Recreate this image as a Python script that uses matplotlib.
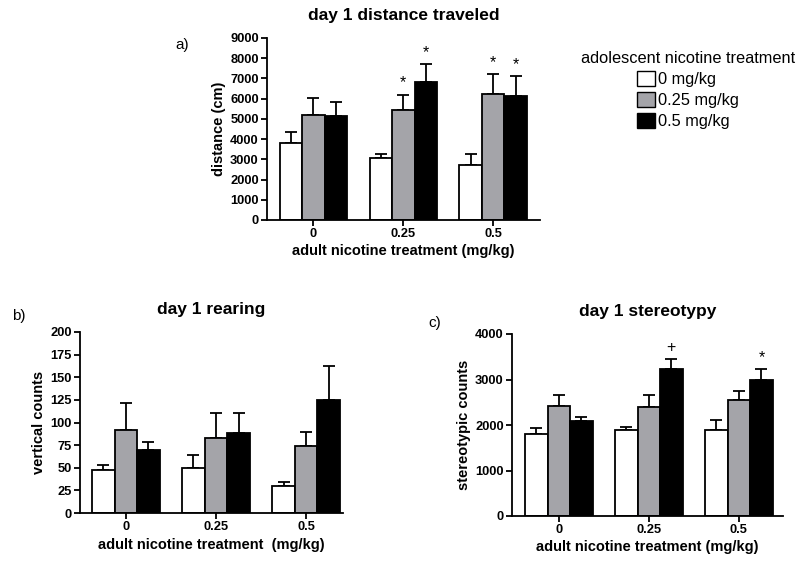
import matplotlib
matplotlib.use("Agg")
import matplotlib.pyplot as plt
from matplotlib.patches import Patch
import numpy as np

plt.rcParams['font.family'] = ['Liberation Sans', 'DejaVu Sans']

groups = ["0", "0.25", "0.5"]
series = ["0 mg/kg", "0.25 mg/kg", "0.5 mg/kg"]
colors = ["#ffffff", "#a4a4a9", "#000000"]

# panel a: distance traveled
dist_mean = [[3800, 3050, 2700], [5200, 5420, 6250], [5150, 6830, 6120]]
dist_err = [[550, 230, 550], [820, 780, 970], [680, 890, 980]]
dist_marks = [(1, 1, "*"), (1, 2, "*"), (2, 1, "*"), (2, 2, "*")]

# panel b: rearing
rear_mean = [[48, 50, 30], [92, 83, 74], [70, 88, 125]]
rear_err = [[5, 14, 4], [29, 28, 16], [8, 22, 37]]
rear_marks = []

# panel c: stereotypy
ster_mean = [[1800, 1890, 1890], [2420, 2390, 2560], [2090, 3240, 2990]]
ster_err = [[130, 60, 230], [250, 270, 190], [90, 210, 230]]
ster_marks = [(1, 2, "+"), (2, 2, "*")]

W, H = 800, 561
fig = plt.figure(figsize=(W / 100, H / 100), dpi=100)


def ax_px(l, r, t, b):
    return fig.add_axes([l / W, 1 - b / H, (r - l) / W, (b - t) / H])


def panel(ax, means, errs, marks, ylim, yticks, ylabel, xlabel, title, xlim):
    x = np.arange(len(groups))
    bw = 0.25
    for i, (m, e) in enumerate(zip(means, errs)):
        pos = x + (i - 1) * bw
        ax.errorbar(pos, m, yerr=[np.zeros(len(e)), e], fmt='none', ecolor='black',
                    elinewidth=1.3, capsize=4, capthick=1.3, zorder=1)
        ax.bar(pos, m, width=bw, color=colors[i], edgecolor='black', linewidth=1.3, zorder=2)
    for g, s, sym in marks:
        xx = x[g] + (s - 1) * bw
        yy = means[s][g] + errs[s][g]
        ax.annotate(sym, (xx, yy), xytext=(0, 3), textcoords='offset points',
                    ha='center', va='bottom', fontsize=11.5)
    ax.set_xlim(*xlim)
    ax.set_ylim(*ylim)
    ax.set_yticks(yticks)
    ax.set_xticks(x)
    ax.set_xticklabels(groups)
    for sp in ['top', 'right']:
        ax.spines[sp].set_visible(False)
    for sp in ['left', 'bottom']:
        ax.spines[sp].set_linewidth(1.3)
    ax.tick_params(axis='both', direction='out', length=4, width=1.3, labelsize=9.3, pad=2)
    for lab in ax.get_xticklabels() + ax.get_yticklabels():
        lab.set_fontweight('bold')
    ax.set_ylabel(ylabel, fontsize=10.5, fontweight='bold', labelpad=3)
    ax.set_xlabel(xlabel, fontsize=10.5, fontweight='bold', labelpad=3)
    ax.set_title(title, fontsize=12.5, fontweight='bold', pad=13)


axa = ax_px(267, 540, 38, 220)
panel(axa, dist_mean, dist_err, dist_marks, (0, 9000), range(0, 9001, 1000),
      "distance (cm)", "adult nicotine treatment (mg/kg)", "day 1 distance traveled", (-0.515, 2.52))

axb = ax_px(80, 343, 332, 513)
panel(axb, rear_mean, rear_err, rear_marks, (0, 200), range(0, 201, 25),
      "vertical counts", "adult nicotine treatment  (mg/kg)", "day 1 rearing", (-0.51, 2.41))

axc = ax_px(512, 783, 334, 516)
panel(axc, ster_mean, ster_err, ster_marks, (0, 4000), range(0, 4001, 1000),
      "stereotypic counts", "adult nicotine treatment (mg/kg)", "day 1 stereotypy", (-0.52, 2.49))

fig.text(175 / W, 1 - 45 / H, "a)", fontsize=11, ha='left', va='center')
fig.text(12 / W, 1 - 316 / H, "b)", fontsize=11, ha='left', va='center')
fig.text(428 / W, 1 - 323 / H, "c)", fontsize=11, ha='left', va='center')

handles = [Patch(facecolor=c, edgecolor='black', linewidth=1.0) for c in colors]
leg = fig.legend(handles, series, title="adolescent nicotine treatment",
                 loc='upper center', bbox_to_anchor=(688 / W, 1 - 40 / H),
                 frameon=False, fontsize=11.8, title_fontsize=11.8,
                 handlelength=1.1, handleheight=1.0, handletextpad=0.15,
                 labelspacing=0.3, borderpad=0.2)

fig.savefig("out.png", dpi=100)
